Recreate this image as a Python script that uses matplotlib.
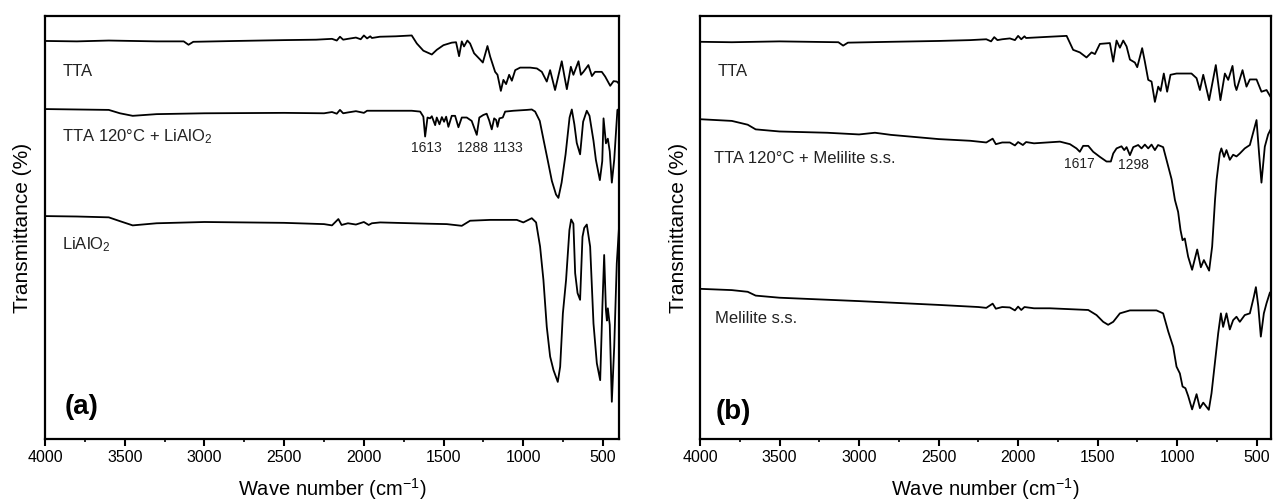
"""
FTIR spectra of TTA adsorbed on LiAlO2 (a) and on melilite s.s. (b).

Two stacked-spectrum panels, wavenumber axis reversed, no y ticks.
"""

import matplotlib
matplotlib.use("Agg")  # non-interactive backend
import matplotlib.pyplot as plt
import numpy as np
from matplotlib.ticker import MultipleLocator

plt.rcParams["font.family"] = ["Liberation Sans", "DejaVu Sans"]
plt.rcParams["mathtext.fontset"] = "custom"
plt.rcParams["mathtext.rm"] = "Liberation Sans"
plt.rcParams["mathtext.it"] = "Liberation Sans:italic"

# ──────────────────────────────────────────────────────────────────────────────
# Data — (wavenumber cm-1, transmittance in arbitrary offset units)
# ──────────────────────────────────────────────────────────────────────────────
tta_a = [
    (4000, 94.1), (3800, 94.0), (3600, 94.2), (3300, 94.0), (3130, 94.0),
    (3100, 93.2), (3070, 93.9), (2800, 94.1), (2500, 94.3), (2300, 94.4),
    (2200, 94.6), (2170, 94.2), (2150, 95.1), (2130, 94.4), (2100, 94.6),
    (2050, 94.9), (2020, 94.5), (2000, 95.4), (1980, 94.7), (1960, 95.2),
    (1950, 94.8), (1900, 95.1), (1800, 95.2), (1700, 95.4), (1668, 93.5),
    (1627, 91.8), (1574, 90.9), (1543, 92.0), (1501, 93.1), (1449, 93.7),
    (1422, 93.8), (1403, 90.5), (1386, 94.0), (1372, 92.8), (1351, 94.2),
    (1334, 93.5), (1309, 91.2), (1271, 89.7), (1254, 89.0), (1225, 92.9),
    (1208, 90.4), (1177, 86.8), (1162, 86.1), (1141, 82.3), (1125, 84.9),
    (1108, 83.9), (1089, 86.1), (1072, 84.7), (1051, 87.2), (1020, 87.8),
    (957, 87.8), (915, 87.6), (884, 86.8), (853, 84.5), (832, 87.2),
    (801, 82.5), (759, 89.3), (742, 85.7), (727, 82.7), (702, 88.0),
    (686, 86.1), (654, 89.3), (639, 86.1), (623, 86.8), (592, 88.4),
    (570, 85.8), (550, 86.8), (508, 86.8), (487, 85.7), (455, 83.5),
    (434, 84.6), (414, 84.5), (400, 84.0),
]

tta_liaio2 = [
    (4000, 78.0), (3800, 77.9), (3600, 77.8), (3530, 77.0), (3450, 76.4),
    (3300, 76.8), (3000, 77.0), (2500, 77.1), (2250, 77.0), (2200, 77.3),
    (2170, 76.9), (2150, 77.8), (2130, 77.0), (2100, 77.2), (2050, 77.5),
    (2000, 77.1), (1980, 77.6), (1900, 77.6), (1700, 77.6), (1647, 77.4),
    (1627, 76.2), (1616, 71.5), (1601, 76.0), (1585, 75.8), (1574, 76.3),
    (1553, 74.2), (1543, 76.0), (1526, 74.4), (1511, 76.1), (1497, 75.0),
    (1484, 76.2), (1470, 73.8), (1449, 76.4), (1428, 76.4), (1407, 73.7),
    (1386, 76.0), (1355, 76.0), (1324, 75.2), (1292, 71.9), (1276, 76.0),
    (1251, 76.6), (1230, 76.9), (1214, 75.3), (1198, 73.2), (1183, 75.8),
    (1170, 75.4), (1162, 73.8), (1150, 75.8), (1129, 76.0), (1114, 77.4),
    (1062, 77.6), (978, 77.8), (947, 77.9), (926, 77.4), (897, 75.2),
    (872, 70.5), (846, 65.7), (821, 61.0), (795, 57.8), (780, 57.0),
    (760, 60.6), (735, 67.3), (710, 76.0), (696, 77.9), (680, 74.4),
    (665, 70.0), (644, 67.3), (625, 75.0), (602, 77.6), (585, 76.4),
    (560, 70.5), (545, 66.0), (520, 61.2), (505, 65.7), (497, 75.8),
    (482, 69.9), (470, 71.0), (458, 68.0), (445, 60.6), (430, 66.0),
    (410, 77.8), (400, 78.0),
]

liaio2 = [
    (4000, 52.7), (3800, 52.6), (3600, 52.4), (3530, 51.5), (3450, 50.5),
    (3300, 51.0), (3000, 51.3), (2500, 51.1), (2250, 50.8), (2200, 50.5),
    (2160, 52.0), (2140, 50.6), (2100, 51.0), (2050, 50.7), (2000, 51.3),
    (1970, 50.6), (1950, 51.0), (1898, 51.2), (1800, 51.1), (1600, 50.9),
    (1480, 50.8), (1386, 50.4), (1334, 51.6), (1208, 51.8), (1041, 51.8),
    (1000, 51.2), (947, 52.2), (920, 51.2), (895, 45.5), (874, 37.6),
    (853, 26.5), (832, 19.5), (811, 16.3), (784, 13.5), (769, 17.1),
    (752, 29.7), (732, 37.6), (711, 49.4), (700, 51.9), (686, 50.9),
    (675, 39.2), (660, 34.5), (644, 32.9), (629, 47.8), (618, 49.9),
    (602, 50.7), (581, 45.5), (560, 27.3), (539, 17.9), (518, 13.9),
    (504, 31.5), (493, 43.5), (482, 30.5), (476, 28.0), (470, 30.9),
    (458, 27.0), (445, 8.8), (430, 21.8), (414, 41.5), (400, 50.0),
]

tta_b = [
    (4000, 93.9), (3800, 93.8), (3500, 94.0), (3130, 93.8), (3100, 93.0),
    (3070, 93.7), (2800, 93.9), (2500, 94.1), (2300, 94.3), (2200, 94.5),
    (2170, 94.0), (2150, 95.0), (2130, 94.3), (2100, 94.5), (2052, 94.7),
    (2020, 94.3), (2000, 95.3), (1980, 94.5), (1960, 95.2), (1950, 94.8),
    (1800, 95.1), (1695, 95.3), (1654, 92.0), (1612, 91.4), (1570, 90.2),
    (1538, 91.4), (1517, 91.0), (1486, 93.4), (1423, 93.6), (1402, 89.2),
    (1381, 94.2), (1360, 92.5), (1339, 94.2), (1318, 92.8), (1297, 89.7),
    (1266, 89.0), (1251, 87.9), (1220, 92.4), (1203, 89.2), (1182, 84.9),
    (1161, 84.5), (1140, 79.7), (1119, 83.3), (1104, 82.3), (1084, 86.4),
    (1063, 82.1), (1042, 86.1), (1004, 86.4), (910, 86.4), (878, 85.3),
    (857, 82.5), (836, 86.1), (799, 80.1), (757, 88.4), (742, 84.1),
    (728, 80.1), (700, 86.4), (679, 84.9), (652, 88.2), (637, 83.7),
    (627, 82.5), (589, 87.2), (564, 83.3), (543, 85.0), (501, 85.0),
    (470, 82.1), (438, 82.5), (413, 80.9), (405, 81.5),
]

tta_melilite = [
    (4000, 75.6), (3800, 75.2), (3700, 74.3), (3650, 73.2), (3500, 72.7),
    (3200, 72.4), (3000, 72.0), (2900, 72.4), (2800, 71.9), (2500, 70.9),
    (2300, 70.5), (2200, 70.1), (2160, 71.0), (2140, 69.7), (2100, 70.1),
    (2052, 70.1), (2020, 69.4), (2000, 70.2), (1970, 69.5), (1950, 70.2),
    (1900, 69.9), (1737, 70.3), (1674, 69.7), (1633, 68.7), (1612, 67.9),
    (1591, 69.3), (1559, 69.3), (1528, 67.9), (1486, 66.7), (1444, 65.6),
    (1417, 65.6), (1402, 67.5), (1381, 68.7), (1350, 69.2), (1333, 68.3),
    (1318, 69.0), (1297, 67.1), (1276, 69.0), (1245, 69.5), (1224, 68.7),
    (1203, 69.6), (1182, 68.7), (1161, 69.6), (1140, 68.3), (1120, 69.5),
    (1088, 69.0), (1067, 66.0), (1035, 61.4), (1014, 56.5), (994, 53.7),
    (979, 49.4), (966, 47.0), (952, 47.4), (931, 43.1), (906, 40.0),
    (874, 44.8), (851, 40.6), (832, 42.3), (799, 39.8), (780, 45.5),
    (762, 56.5), (752, 61.3), (732, 67.5), (722, 68.7), (705, 66.7),
    (690, 68.3), (669, 66.0), (648, 67.2), (627, 66.8), (606, 67.5),
    (575, 68.7), (543, 69.5), (518, 73.0), (501, 75.4), (485, 67.5),
    (470, 60.6), (449, 69.1), (428, 72.0), (407, 73.6), (400, 75.0),
]

melilite = [
    (4000, 35.5), (3800, 35.2), (3700, 34.8), (3650, 33.9), (3500, 33.4),
    (3000, 32.6), (2500, 31.7), (2250, 31.2), (2200, 31.0), (2160, 32.0),
    (2140, 30.8), (2100, 31.2), (2052, 31.1), (2020, 30.4), (2000, 31.3),
    (1980, 30.5), (1960, 31.2), (1900, 30.9), (1800, 30.9), (1559, 30.5),
    (1507, 29.3), (1465, 27.7), (1434, 27.0), (1402, 27.7), (1360, 29.7),
    (1297, 30.4), (1130, 30.4), (1088, 29.7), (1056, 25.4), (1025, 21.8),
    (1004, 17.1), (983, 15.5), (966, 12.4), (948, 12.0), (931, 10.2),
    (906, 7.0), (878, 10.6), (857, 7.3), (836, 8.6), (801, 6.9),
    (784, 10.8), (763, 17.9), (742, 25.0), (725, 29.7), (711, 26.5),
    (690, 29.7), (669, 25.9), (648, 28.1), (627, 28.9), (606, 27.7),
    (575, 29.3), (543, 29.7), (518, 33.6), (505, 35.9), (490, 31.4),
    (474, 24.2), (455, 29.7), (438, 32.1), (417, 34.6), (405, 35.0),
]

# curve labels: (text, x axes-fraction, y axes-fraction)
labels_a = [
    ("TTA", 0.030, 0.868),
    ("TTA 120°C + LiAlO$_2$", 0.029, 0.714),
    ("LiAlO$_2$", 0.029, 0.459),
]
labels_b = [
    ("TTA", 0.030, 0.868),
    ("TTA 120°C + Melilite s.s.", 0.025, 0.664),
    ("Melilite s.s.", 0.027, 0.286),
]

# peak annotations: (text, wavenumber, transmittance)
peaks_a = [("1613", 1605, 68.7), ("1288", 1317, 68.7), ("1133", 1094, 68.7)]
peaks_b = [("1617", 1612, 65.0), ("1298", 1277, 64.8)]


# ──────────────────────────────────────────────────────────────────────────────
# Plot helpers
# ──────────────────────────────────────────────────────────────────────────────
def style_axis(ax, x_right):
    ax.set_xlim(4000, x_right)
    ax.set_ylim(0, 100)
    ax.xaxis.set_major_locator(MultipleLocator(500))
    ax.xaxis.set_minor_locator(MultipleLocator(250))
    ax.tick_params(axis="x", which="major", direction="out", length=5,
                   width=1.5, labelsize=11.5, pad=3)
    ax.tick_params(axis="x", which="minor", direction="out", length=2.5,
                   width=1.2)
    ax.set_yticks([])
    for spine in ax.spines.values():
        spine.set_linewidth(1.6)
    ax.set_xlabel("Wave number (cm$^{-1}$)", fontsize=14.5, labelpad=8)
    ax.set_ylabel("Transmittance (%)", fontsize=15, labelpad=9)


def draw_panel(ax, spectra, labels, peaks, tag, tag_x, tag_y, x_right):
    for spec in spectra:
        wn, tr = np.array(spec).T
        ax.plot(wn, tr, color="black", lw=1.3)
    for text, fx, fy in labels:
        ax.text(fx, fy, text, transform=ax.transAxes, fontsize=12,
                ha="left", va="center", color="#222222")
    for text, wn, tr in peaks:
        ax.text(wn, tr, text, fontsize=10, ha="center", va="center",
                color="#222222")
    ax.text(tag_x, tag_y, tag, transform=ax.transAxes, fontsize=20,
            fontweight="bold", ha="left", va="center")
    style_axis(ax, x_right)


# ──────────────────────────────────────────────────────────────────────────────
# Figure
# ──────────────────────────────────────────────────────────────────────────────
fig = plt.figure(figsize=(12.73, 5.04), dpi=100)
ax_a = fig.add_axes([45 / 1273, 65 / 504, 574 / 1273, 423 / 504])
ax_b = fig.add_axes([700 / 1273, 65 / 504, 571 / 1273, 423 / 504])

draw_panel(ax_a, [tta_a, tta_liaio2, liaio2], labels_a, peaks_a,
           "(a)", 0.035, 0.076, 400)
draw_panel(ax_b, [tta_b, tta_melilite, melilite], labels_b, peaks_b,
           "(b)", 0.028, 0.064, 410)

fig.savefig("out.png", dpi=100)
plt.close(fig)
